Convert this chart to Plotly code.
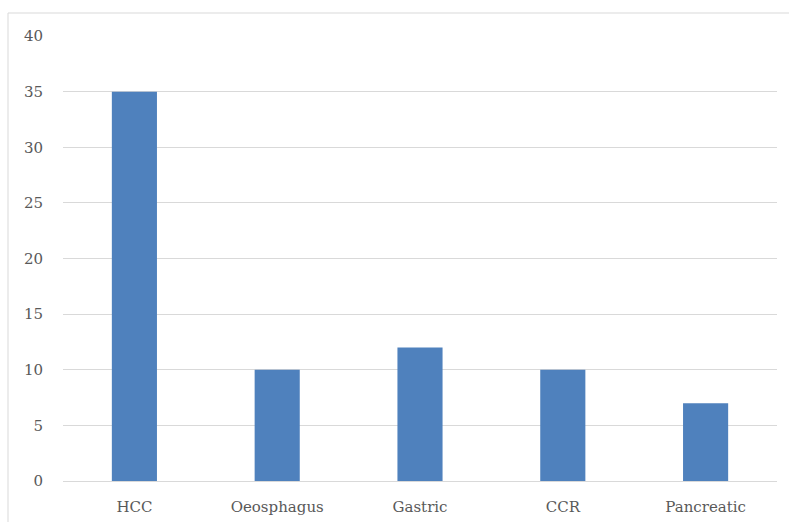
import plotly.graph_objects as go

categories = ["HCC", "Oeosphagus", "Gastric", "CCR", "Pancreatic"]
values = [35, 10, 12, 10, 7]
y_ticks = [0, 5, 10, 15, 20, 25, 30, 35, 40]

W, H = 789, 522
ml, mr, mt, mb = 63, 12, 36, 41
pw, ph = W - ml - mr, H - mt - mb

fig = go.Figure(go.Bar(x=categories, y=values, marker=dict(color="#4F81BD", line=dict(width=0))))

fig.update_layout(
    width=W, height=H,
    margin=dict(l=ml, r=mr, t=mt, b=mb),
    paper_bgcolor="white", plot_bgcolor="white",
    bargap=0.684,
    showlegend=False,
    font=dict(family="DejaVu Serif", size=15, color="#595959"),
)
fig.update_xaxes(showgrid=False, showline=False, ticks="", ticklabelstandoff=15, automargin=False)
fig.update_yaxes(range=[0, 40], tickvals=y_ticks, showgrid=True, gridcolor="#d9d9d9",
                 gridwidth=1, zeroline=True, zerolinecolor="#d9d9d9", zerolinewidth=1,
                 showline=False, ticks="", ticklabelstandoff=19, automargin=False)

# outer chart border
fig.add_shape(type="rect", xref="paper", yref="paper",
              x0=(8 - ml) / pw, x1=(W + 5 - ml) / pw,
              y0=-(H + 5 - mt - ph) / ph, y1=(mt + ph - 13) / ph,
              line=dict(color="#d9d9d9", width=1), layer="below")

fig.write_html("out.html")
